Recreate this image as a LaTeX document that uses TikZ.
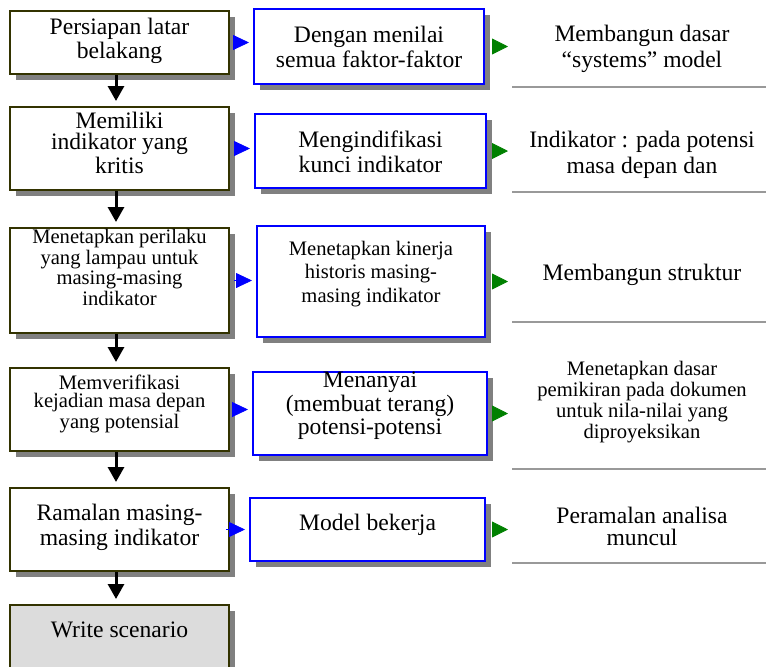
\documentclass[tikz,border=0pt]{standalone}
\usepackage{fontspec}
\setmainfont{Liberation Serif}
\usetikzlibrary{shadows,arrows.meta}
\definecolor{olivedark}{HTML}{333300}
\definecolor{shadowgray}{HTML}{808080}
\definecolor{linegray}{HTML}{999999}
\definecolor{boxgray}{HTML}{DCDCDC}
\definecolor{arrgreen}{HTML}{008000}
\begin{document}
\begin{tikzpicture}[x=0.5pt,y=-0.5pt,
  wh/.style 2 args={minimum width=#1*0.5pt, minimum height=#2*0.5pt},
  shad/.style={drop shadow={shadow xshift=3pt, shadow yshift=-3pt, opacity=1, fill=shadowgray}},
  lbox/.style={draw=olivedark, line width=1pt, fill=white, inner sep=0pt, shad},
  bbox/.style={draw=blue, line width=1pt, fill=white, inner sep=0pt, shad},
  txt/.style 2 args={anchor=base, align=center, inner sep=0pt, font=\fontsize{#1}{#2}\selectfont},
  varrow/.style={line width=1.5pt, -{Triangle[length=7.5pt, width=8pt]}, shorten >=2.5pt},
  barrow/.style={blue, line width=0.4pt, -{Triangle[length=8pt, width=7.5pt]}, shorten <=2pt, shorten >=2pt},
  garrow/.style={arrgreen, line width=0.4pt, -{Triangle[length=8pt, width=8pt]}, shorten <=3.5pt, shorten >=2pt},
  gline/.style={linegray, line width=1pt}
]
\useasboundingbox (0,0) rectangle (766,666);
\clip (0,0) rectangle (766,666);

% left column boxes
\node[lbox, wh={219}{63}]  (L1) at (119.5,42.5) {};
\node[lbox, wh={219}{83}]  (L2) at (119.5,148.5) {};
\node[lbox, wh={219}{105}] (L3) at (119.5,280.5) {};
\node[lbox, wh={219}{83}]  (L4) at (119.5,409.5) {};
\node[lbox, wh={219}{83}]  (L5) at (119.5,529.5) {};
\node[lbox, fill=boxgray, wh={219}{95}] (L6) at (119.5,652.5) {};

% blue boxes
\node[bbox, wh={230}{75}]  (B1) at (369,46.5) {};
\node[bbox, wh={231}{74}]  (B2) at (370.5,151) {};
\node[bbox, wh={228}{111}] (B3) at (371,281.5) {};
\node[bbox, wh={234}{83}]  (B4) at (370,413.5) {};
\node[bbox, wh={235}{63}]  (B5) at (367.5,529.5) {};

% left texts (positioned at the baseline of the last line)
\node[txt={11.8}{10.3}] (tL1) at (119.5,58) {Persiapan latar\\belakang};
\node[txt={11.8}{10.5}] (tL2) at (119.5,173) {Memiliki\\indikator yang\\kritis};
\node[txt={10.3}{8.8}] (tL3) at (119.5,305) {Menetapkan perilaku\\yang lampau untuk\\masing-masing\\indikator};
\node[txt={10.3}{9}] (tL4) at (119.5,428) {Memverifikasi\\kejadian masa depan\\yang potensial};
\node[txt={11.8}{12.5}] (tL5) at (119.5,545) {Ramalan masing-\\masing indikator};
\node[txt={11.8}{12.5}] (tL6) at (119.5,637) {Write scenario};

% blue texts
\node[txt={11.8}{12.5}] (tB1) at (369,67) {Dengan menilai\\semua faktor-faktor};
\node[txt={11.8}{12.5}] (tB2) at (370.5,172) {Mengindifikasi\\kunci indikator};
\node[txt={10.3}{11.75}] (tB3) at (371,302) {Menetapkan kinerja\\historis masing-\\masing indikator};
\node[txt={11.8}{9.5}] (tB4) at (370,434) {Menanyai\\(membuat terang)\\potensi-potensi};
\node[txt={11.8}{12.5}] (tB5) at (367.5,530) {Model bekerja};

% right texts
\node[txt={11.8}{13}] (R1) at (642,67) {Membangun dasar\\“systems” model};
\node[txt={11.8}{13}] (R2) at (642,173) {Indikator : pada potensi\\masa depan dan};
\node[txt={11.8}{13}] (R3) at (642,280) {Membangun struktur};
\node[txt={10.3}{8.8}] (R4) at (642,438) {Menetapkan dasar\\pemikiran pada dokumen\\untuk nila-nilai yang\\diproyeksikan};
\node[txt={11.8}{10.6}] (R5) at (642,545) {Peramalan analisa\\muncul};

% gray rules
\coordinate (gcol) at (512,0);
\draw[gline] (512,87) -- (766,87);
\draw[gline] (512,192) -- (766,192);
\draw[gline] (512,322) -- (766,322);
\draw[gline] (512,469) -- (766,469);
\draw[gline] (512,563) -- (766,563);

% vertical arrows
\draw[varrow] ([xshift=-1.75pt]L1.south) -- ([xshift=-1.75pt]L2.north);
\draw[varrow] ([xshift=-1.75pt]L2.south) -- ([xshift=-1.75pt]L3.north);
\draw[varrow] ([xshift=-1.75pt]L3.south) -- ([xshift=-1.75pt]L4.north);
\draw[varrow] ([xshift=-1.75pt]L4.south) -- ([xshift=-1.75pt]L5.north);
\draw[varrow] ([xshift=-1.75pt]L5.south) -- ([xshift=-1.75pt]L6.north);

% blue and green arrowheads
\foreach \i in {1,...,5} {
  \draw[barrow] (L\i.east) -- (L\i.east -| B\i.west);
  \draw[garrow] (B\i.east) -- (B\i.east -| gcol);
}
\end{tikzpicture}
\end{document}
